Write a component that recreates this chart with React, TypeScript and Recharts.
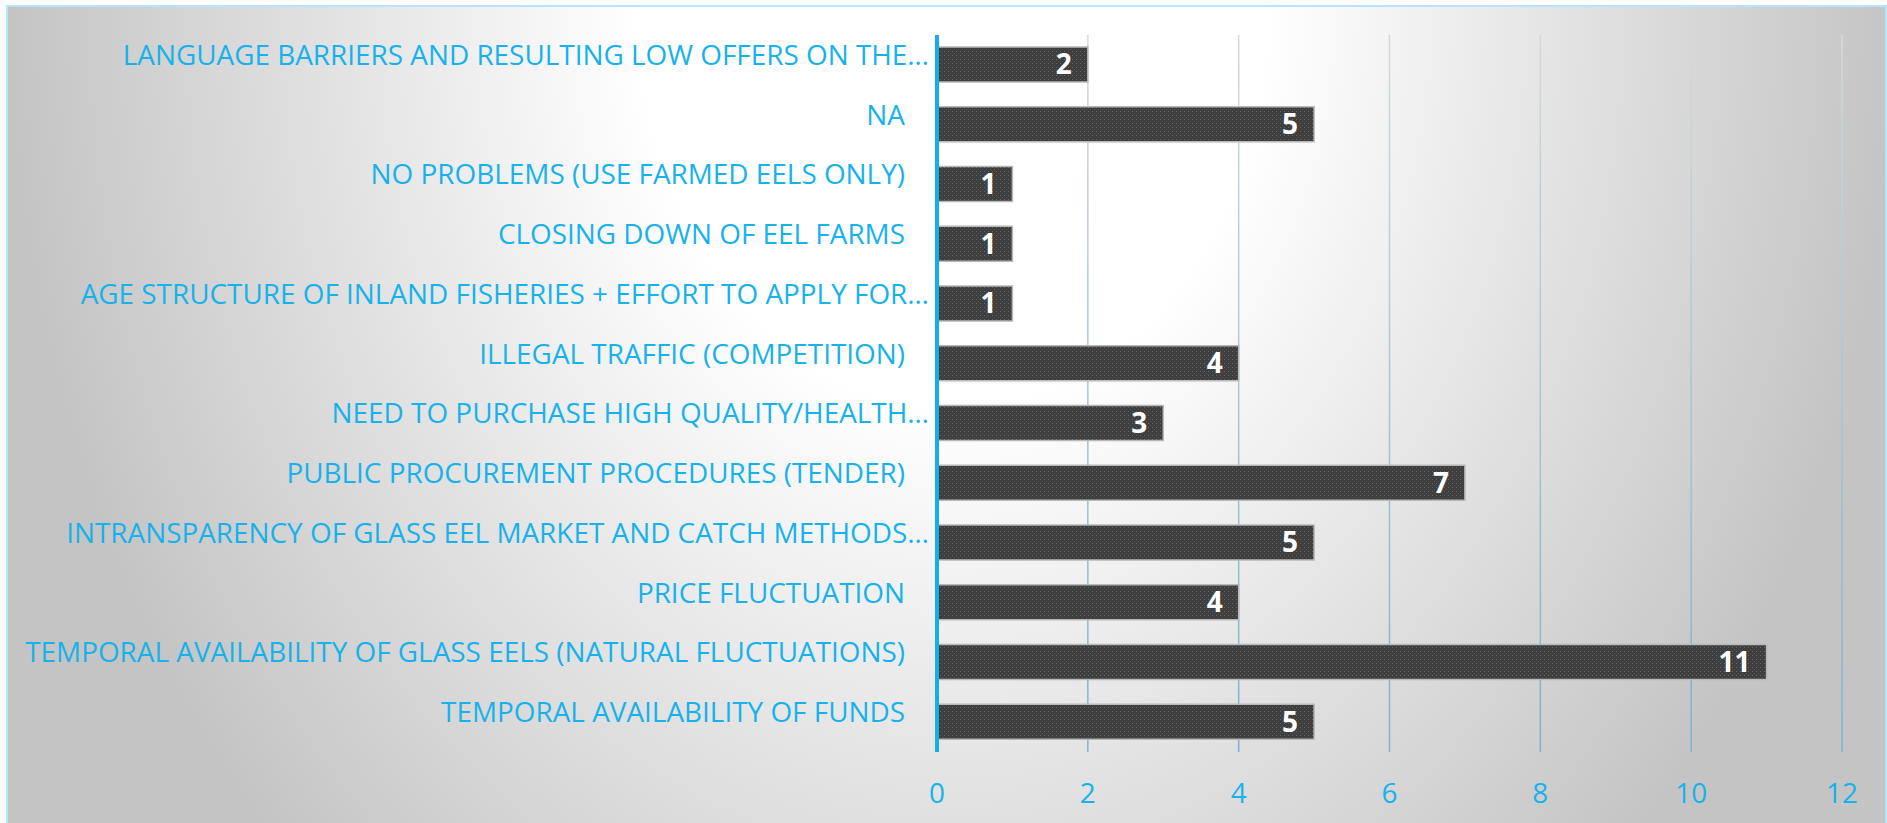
import { BarChart, Bar, XAxis, YAxis, CartesianGrid, LabelList } from "recharts";

const categories = [
  "LANGUAGE BARRIERS AND RESULTING LOW OFFERS ON THE…",
  "NA",
  "NO PROBLEMS (USE FARMED EELS ONLY)",
  "CLOSING DOWN OF EEL FARMS",
  "AGE STRUCTURE OF INLAND FISHERIES + EFFORT TO APPLY FOR…",
  "ILLEGAL TRAFFIC (COMPETITION)",
  "NEED TO PURCHASE HIGH QUALITY/HEALTH…",
  "PUBLIC PROCUREMENT PROCEDURES (TENDER)",
  "INTRANSPARENCY OF GLASS EEL MARKET AND CATCH METHODS…",
  "PRICE FLUCTUATION",
  "TEMPORAL AVAILABILITY OF GLASS EELS (NATURAL FLUCTUATIONS)",
  "TEMPORAL AVAILABILITY OF FUNDS",
];
const counts = [2, 5, 1, 1, 1, 4, 3, 7, 5, 4, 11, 5];
const xTicks = [0, 2, 4, 6, 8, 10, 12];

const data = categories.map((name, i) => ({ name, count: counts[i] }));

const BLUE = "#17b2eb";
const FONT = "'Open Sans', sans-serif";

function CategoryTick({ x, y, payload }: any) {
  const label: string = payload.value;
  // truncated labels sit closer to the axis (no trailing blanks)
  const cut = label.endsWith("…");
  return (
    <text x={x - (cut ? 8 : 32)} y={y} textAnchor="end" fill={BLUE} fontFamily={FONT} fontSize={27.9}>
      {label}
    </text>
  );
}

function ValueTick({ x, y, payload }: any) {
  return (
    <text x={x} y={y + 51} textAnchor="middle" fill={BLUE} fontFamily={FONT} fontSize={27.9}>
      {payload.value}
    </text>
  );
}

export default function App() {
  return (
    <div
      style={{
        position: "absolute",
        left: 6,
        top: 5,
        width: 1881,
        height: 818,
        boxSizing: "border-box",
        borderTop: "2px solid #b3e6f9",
        borderLeft: "2px solid #b3e6f9",
        borderRight: "2px solid #b3e6f9",
        background:
          "radial-gradient(945px 1200px at 945px 0px, #ffffff 0%, #ffffff 33%, #c4c4c4 100%)",
      }}
    >
      <BarChart
        width={1877}
        height={816}
        data={data}
        layout="vertical"
        margin={{ top: 28, right: 43, bottom: 0, left: 0 }}
      >
        <defs>
          <pattern id="barTexture" width="4" height="4" patternUnits="userSpaceOnUse">
            <rect width="4" height="4" fill="#3e3e3e" />
            <rect width="1" height="1" fill="#686868" />
            <rect x="2" y="2" width="1" height="1" fill="#545454" />
          </pattern>
          <linearGradient id="gridFade" x1="0" y1="28" x2="0" y2="745" gradientUnits="userSpaceOnUse">
            <stop offset="0" stopColor="#d3d9dc" />
            <stop offset="1" stopColor="#7fb2c9" />
          </linearGradient>
        </defs>
        <CartesianGrid horizontal={false} stroke="url(#gridFade)" strokeWidth={1.5} />
        <XAxis
          type="number"
          domain={[0, 12]}
          ticks={xTicks}
          axisLine={false}
          tickLine={false}
          tickSize={0}
          tickMargin={0}
          height={71}
          tick={<ValueTick />}
        />
        <YAxis
          type="category"
          dataKey="name"
          width={929}
          interval={0}
          axisLine={{ stroke: "#15aeea", strokeWidth: 4 }}
          tickLine={false}
          tickSize={0}
          tickMargin={0}
          tick={<CategoryTick />}
        />
        <Bar
          dataKey="count"
          barSize={35}
          fill="url(#barTexture)"
          stroke="#b8b8b8"
          strokeWidth={1.5}
          isAnimationActive={false}
        >
          <LabelList
            dataKey="count"
            position="insideRight"
            offset={16}
            fill="#ffffff"
            fontFamily={FONT}
            fontWeight="bold"
            fontSize={28}
          />
        </Bar>
      </BarChart>
    </div>
  );
}
